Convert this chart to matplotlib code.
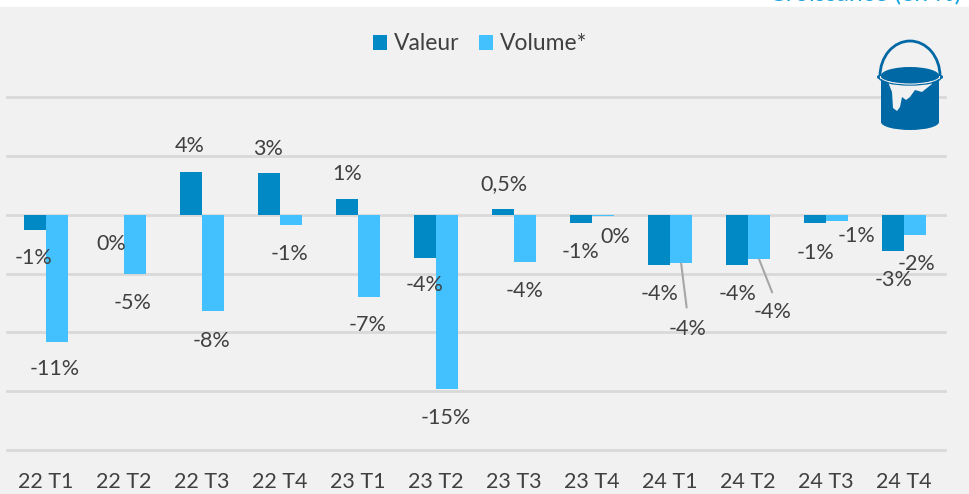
import numpy as np
import matplotlib
matplotlib.use("Agg")
import matplotlib.pyplot as plt
from matplotlib.patches import Polygon, Ellipse, Arc, Rectangle

plt.rcParams["font.family"] = ["Lato", "DejaVu Sans"]

categories = ["22 T1", "22 T2", "22 T3", "22 T4", "23 T1", "23 T2",
              "23 T3", "23 T4", "24 T1", "24 T2", "24 T3", "24 T4"]
valeur = [-1.3, -0.05, 3.65, 3.5, 1.3, -3.65, 0.45, -0.75, -4.3, -4.3, -0.7, -3.1]
volume = [-10.8, -5.0, -8.2, -0.9, -7.0, -14.8, -4.0, -0.1, -4.15, -3.8, -0.55, -1.75]
labels_valeur = ["-1%", "0%", "4%", "3%", "1%", "-4%", "0,5%", "-1%", "-4%", "-4%", "-1%", "-3%"]
labels_volume = ["-11%", "-5%", "-8%", "-1%", "-7%", "-15%", "-4%", "0%", "-4%", "-4%", "-1%", "-2%"]

# decalage des etiquettes en pixels par rapport au bout de la barre
off_valeur = [(-1, -28.5), (-2, -28.5), (-1, 25.5), (-1, 24.5), (0, 25.5), (0, -27.5),
              (1, 25.5), (0, -28.5), (1, -28.5), (1, -28.5), (1, -30.5), (1, -29)]
off_volume = [(-2, -27.5), (-3, -29.5), (-2, -29.5), (-2, -28.5), (-2, -27.5), (-1, -29.5),
              (-1, -29.5), (12, -21.5), (6, -65.5), (13, -52.5), (19, -15), (1, -28.5)]

C_VAL = "#0089C4"
C_VOL = "#43C1FF"
C_TXT = "#404040"
C_GRID = "#D9D9D9"
C_BG = "#F1F1F1"
C_ICON = "#0068A5"
FS = 15.5

W, H = 970, 494
fig = plt.figure(figsize=(W / 100, H / 100), dpi=100, facecolor="white")
fig.patches.append(Rectangle((0, 0), 1, 1 - 7 / H, transform=fig.transFigure, color=C_BG, zorder=-5))

ax = fig.add_axes([7 / W, (H - 450) / H, 938 / W, 353 / H])
ax.patch.set_alpha(0)
x = np.arange(len(categories))
w = 0.285
ax.bar(x - w / 2, valeur, w, color=C_VAL, label="Valeur", zorder=3)
ax.bar(x + w / 2, volume, w, color=C_VOL, label="Volume*", zorder=3)

ax.set_xlim(-0.5, 11.525)
ax.set_ylim(-20, 10)
ax.set_yticks(np.arange(-20, 11, 5))
ax.tick_params(axis="y", left=False, labelleft=False)
ax.tick_params(axis="x", bottom=False, pad=12, labelsize=FS, labelcolor=C_TXT)
ax.set_xticks(x, categories)
ax.grid(axis="y", color=C_GRID, lw=2, zorder=0)
for g in ax.get_ygridlines():
    g.set_clip_on(False)
for s in ax.spines.values():
    s.set_visible(False)

for i in range(len(categories)):
    ax.annotate(labels_valeur[i], (i - w / 2, valeur[i]), xytext=off_valeur[i], textcoords="offset pixels",
                ha="center", va="center", fontsize=FS, color=C_TXT, zorder=5)
    ax.annotate(labels_volume[i], (i + w / 2, volume[i]), xytext=off_volume[i], textcoords="offset pixels",
                ha="center", va="center", fontsize=FS, color=C_TXT, zorder=5)

# traits de rappel 24 T1 et 24 T2
ax.annotate("", (8 + w / 2, volume[8]), xytext=(5.5, -44), textcoords="offset pixels",
            arrowprops=dict(arrowstyle="-", color="#A6A6A6", lw=1.5, shrinkA=0, shrinkB=0))
ax.annotate("", (9 + w / 2, volume[9]), xytext=(13, -33), textcoords="offset pixels",
            arrowprops=dict(arrowstyle="-", color="#A6A6A6", lw=1.5, shrinkA=0, shrinkB=0))

fig.legend(loc="center", bbox_to_anchor=(480 / W, 1 - 44 / H), ncol=2, frameon=False, fontsize=16.5,
           labelcolor=C_TXT, handlelength=0.62, handleheight=0.62, handletextpad=0.3, columnspacing=0.85)

fig.text(961 / W, 1 - 1 / H, "Croissance (en %)", ha="right", va="baseline", fontsize=18, color="#1AA3DC")

# pot de peinture, en pixels de la figure
ic = fig.add_axes([0, 0, 1, 1], zorder=6)
ic.set_xlim(0, W)
ic.set_ylim(H, 0)
ic.axis("off")
ic.add_patch(Arc((910, 76), 60, 70, theta1=180, theta2=360, color=C_ICON, lw=2))
ic.add_patch(Rectangle((881, 76), 58, 47, color=C_ICON, lw=0))
ic.add_patch(Ellipse((910, 122), 58, 16, color=C_ICON, lw=0))
ic.add_patch(Polygon([(888, 82), (892, 92), (893, 108), (897, 111), (900, 107), (902, 97), (906, 100),
                      (910, 97), (915, 90), (922, 92), (927, 88), (932, 84), (932, 78), (888, 78)],
                     color=C_BG, lw=0))
ic.add_patch(Ellipse((910, 75.5), 58, 17, color=C_ICON, lw=0))
ic.add_patch(Arc((910, 77.5), 62, 15, theta1=0, theta2=180, color=C_ICON, lw=1))
ic.add_patch(Arc((910, 76), 60, 16, theta1=0, theta2=180, color=C_BG, lw=0.7))
ic.add_patch(Ellipse((878.5, 77), 3, 3.5, color=C_ICON, lw=0))
ic.add_patch(Ellipse((941.5, 77), 3, 3.5, color=C_ICON, lw=0))

fig.savefig("out.png", dpi=100)
